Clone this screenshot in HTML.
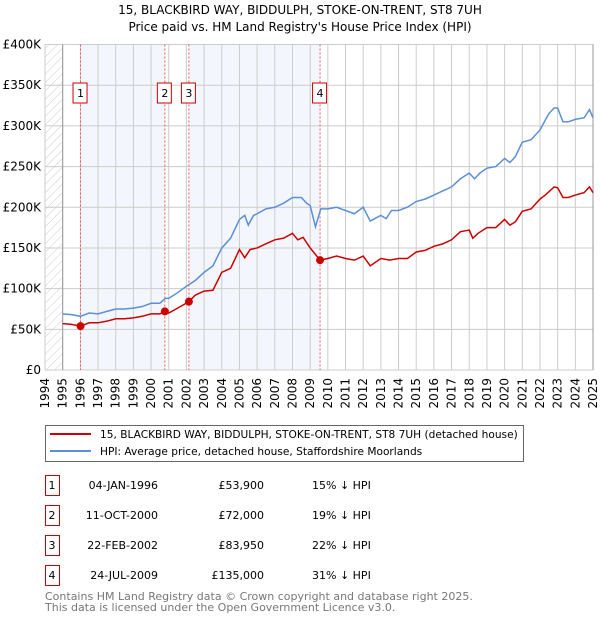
<!DOCTYPE html>
<html><head><meta charset="utf-8"><style>
body{margin:0;background:#fff;font-family:"DejaVu Sans","Liberation Sans",sans-serif;}
svg text{font-family:"DejaVu Sans","Liberation Sans",sans-serif;}
</style></head><body>
<svg id="chart" width="600" height="620" viewBox="0 0 600 620" xmlns="http://www.w3.org/2000/svg">
<defs><pattern id="hatch" width="6" height="6" patternUnits="userSpaceOnUse" patternTransform="rotate(45)"><line x1="0" y1="0" x2="0" y2="6" stroke="#ccc" stroke-width="1"/></pattern></defs>
<text x="300" y="14" text-anchor="middle" font-size="12">15, BLACKBIRD WAY, BIDDULPH, STOKE-ON-TRENT, ST8 7UH</text>
<text x="300" y="31" text-anchor="middle" font-size="12">Price paid vs. HM Land Registry's House Price Index (HPI)</text>
<g id="plot"></g>
<g>
<rect x="45.5" y="425.5" width="478" height="36" fill="#fff" stroke="#666"/>
<line x1="50" y1="434" x2="91" y2="434" stroke="#cc0000" stroke-width="2"/>
<text x="100" y="438" font-size="10.6">15, BLACKBIRD WAY, BIDDULPH, STOKE-ON-TRENT, ST8 7UH (detached house)</text>
<line x1="50" y1="451" x2="91" y2="451" stroke="#5b8fd6" stroke-width="2"/>
<text x="100" y="455" font-size="10.6">HPI: Average price, detached house, Staffordshire Moorlands</text>
</g>
<g id="table"></g>
<text x="45" y="600" font-size="11" fill="#777">Contains HM Land Registry data © Crown copyright and database right 2025.</text>
<text x="45" y="611" font-size="11" fill="#777">This data is licensed under the Open Government Licence v3.0.</text>
</svg>
<script>
const hpiT=[1995,1995.5,1996,1996.5,1997,1997.5,1998,1998.5,1999,1999.5,2000,2000.5,2000.8,2001,2001.5,2002,2002.5,2003,2003.5,2004,2004.5,2005,2005.3,2005.5,2005.8,2006,2006.5,2007,2007.5,2008,2008.5,2008.8,2009,2009.3,2009.6,2010,2010.5,2011,2011.5,2012,2012.4,2013,2013.3,2013.6,2014,2014.5,2015,2015.5,2016,2016.5,2017,2017.5,2018,2018.3,2018.6,2019,2019.5,2020,2020.3,2020.6,2021,2021.5,2022,2022.5,2022.8,2023,2023.3,2023.6,2024,2024.5,2024.8,2025];
const hpiV=[69,68,66,70,69,72,75,75,76,78,82,82,88,88,95,103,110,120,128,150,162,185,190,178,190,192,198,200,205,212,212,205,202,176,198,198,200,196,192,200,183,190,186,196,196,200,207,210,215,220,225,235,242,235,242,248,250,260,255,262,280,283,295,315,322,322,305,305,308,310,320,310];
const redT=[1995,1995.5,1996.01,1996.5,1997,1997.5,1998,1998.5,1999,1999.5,2000,2000.5,2000.78,2001,2001.5,2002.14,2002.5,2003,2003.5,2004,2004.5,2005,2005.3,2005.6,2006,2006.5,2007,2007.5,2008,2008.3,2008.6,2009,2009.56,2010,2010.5,2011,2011.5,2012,2012.4,2013,2013.5,2014,2014.5,2015,2015.5,2016,2016.5,2017,2017.5,2018,2018.2,2018.5,2019,2019.5,2020,2020.3,2020.6,2021,2021.5,2022,2022.3,2022.8,2023,2023.3,2023.6,2024,2024.5,2024.8,2025];
const redV=[57,56,53.9,58,58,60,63,63,64,66,69,69,72,70,76,83.95,92,97,98,120,125,148,138,148,150,155,160,162,168,160,163,150,135,137,140,137,135,140,128,137,135,137,137,145,147,152,155,160,170,172,162,168,175,175,185,178,182,195,198,210,215,225,224,212,212,215,218,225,218];
const saleT=[1996.01,2000.78,2002.14,2009.56];
const saleV=[53.9,72,83.95,135];
const saleLabels=["1","2","3","4"];
const saleDates=["04-JAN-1996","11-OCT-2000","22-FEB-2002","24-JUL-2009"];
const salePrices=["£53,900","£72,000","£83,950","£135,000"];
const saleDiffs=["15% ↓ HPI","19% ↓ HPI","22% ↓ HPI","31% ↓ HPI"];
const yTicks=[0,50,100,150,200,250,300,350,400];
const yTickLabels=["£0","£50K","£100K","£150K","£200K","£250K","£300K","£350K","£400K"];
const xYears=[1994,1995,1996,1997,1998,1999,2000,2001,2002,2003,2004,2005,2006,2007,2008,2009,2010,2011,2012,2013,2014,2015,2016,2017,2018,2019,2020,2021,2022,2023,2024,2025];

const NS="http://www.w3.org/2000/svg";
const X0=45,X1=593,Y0=370,Y1=44.5;
const xs=t=>X0+(t-1994)/(2025-1994)*(X1-X0);
const ys=v=>Y0-(v/400)*(Y0-Y1);
const plot=document.getElementById('plot');
function mk(tag,attrs,parent){const e=document.createElementNS(NS,tag);for(const k in attrs)e.setAttribute(k,attrs[k]);(parent||plot).appendChild(e);return e;}

let bg=mk('rect',{x:X0,y:Y1,width:X1-X0,height:Y0-Y1,fill:'#fff'});


let hz=mk('rect',{x:X0,y:Y1,width:xs(1995)-X0,height:Y0-Y1,fill:'url(#hatch)'});


let s1=mk('rect',{x:xs(saleT[0]),y:Y1,width:xs(saleT[1])-xs(saleT[0]),height:Y0-Y1,fill:'#eef3fc',opacity:0.7});


let s2=mk('rect',{x:xs(saleT[2]),y:Y1,width:xs(saleT[3])-xs(saleT[2]),height:Y0-Y1,fill:'#eef3fc',opacity:0.7});



xYears.forEach(y=>{
 let g=mk('line',{x1:xs(y),x2:xs(y),y1:Y1,y2:Y0,stroke:'#ccc','stroke-width':1});
 
 
 let t=mk('text',{x:0,y:0,'font-size':12,'text-anchor':'end',transform:`translate(${xs(y)+4},${Y0+8}) rotate(-90)`});
 t.textContent=y;
 
 
});
yTicks.forEach((v,i)=>{
 let g=mk('line',{x1:X0,x2:X1,y1:ys(v),y2:ys(v),stroke:'#ccc','stroke-width':1});
 
 
 let t=mk('text',{x:X0-4,y:ys(v)+4,'font-size':12,'text-anchor':'end'});
 t.textContent=yTickLabels[i];
 
 
});
let ax=mk('line',{x1:xs(1995),x2:xs(1995),y1:Y1,y2:Y0,stroke:'#999'});


let ax2=mk('line',{x1:X1,x2:X1,y1:Y1,y2:Y0,stroke:'#999'});



saleT.forEach((t,i)=>{
 let l=mk('line',{x1:xs(t),x2:xs(t),y1:Y1,y2:Y0,stroke:'#e55','stroke-width':1,'stroke-dasharray':'2,2'});
 
 
 let r=mk('rect',{x:xs(t)-7.5,y:83,width:14,height:20,fill:'#fff',stroke:'#cc0000'});
 
 
 let tx=mk('text',{x:xs(t),y:97,'font-size':11,'text-anchor':'middle'});
 tx.textContent=saleLabels[i];
 
 
});

let hp=mk('polyline',{points:hpiT.map((t,i)=>xs(t)+','+ys(hpiV[i])).join(' '),fill:'none',stroke:'#5b8fd6','stroke-width':1.5});


let rp=mk('polyline',{points:redT.map((t,i)=>xs(t)+','+ys(redV[i])).join(' '),fill:'none',stroke:'#cc0000','stroke-width':1.5});


saleT.forEach((t,i)=>{
 let c=mk('circle',{cx:xs(t),cy:ys(saleV[i]),r:4,fill:'#cc0000'});
 
 
});

const tb=document.getElementById('table');
saleLabels.forEach((lab,i)=>{
 const y=475+i*30;
 let r=mk('rect',{x:45.5,y:y+0.5,width:14,height:20,fill:'#fff',stroke:'#cc0000'},tb);
 
 
 const cells=[[52,lab,'middle'],[158,saleDates[i],'end'],[264,salePrices[i],'end'],[312,saleDiffs[i],'start']];
 cells.forEach(([x,s,a],j)=>{
  let t=mk('text',{x:x,y:y+14,'font-size':11,'text-anchor':a},tb);
  t.textContent=s;
  
  
 });
});
</script>
</body></html>
